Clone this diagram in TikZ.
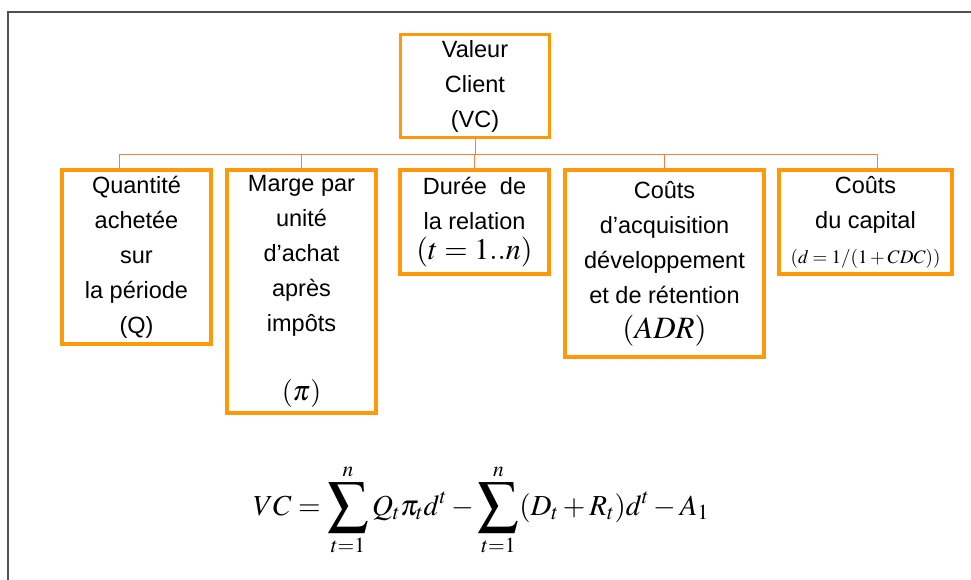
\documentclass[tikz,border=0pt]{standalone}
\usepackage{mathptmx}
\usepackage{fontspec}
\setmainfont{Liberation Sans}
\usepackage{tikz}
\usetikzlibrary{positioning}
\definecolor{boxorange}{RGB}{255,153,10}
\definecolor{linkorange}{RGB}{246,128,64}
\definecolor{framegray}{RGB}{80,80,80}
\tikzstyle{box} = [rectangle, draw=boxorange, line width=3.2pt, fill=white, text centered, align=center, inner sep=0pt, outer sep=0pt, font=\fontsize{23.5}{35}\selectfont]
\tikzstyle{link} = [draw=linkorange, line width=1pt]
\tikzstyle{frame} = [draw=framegray, line width=2pt]
\newcommand{\bigsum}{\mathop{\vcenter{\hbox{\scalebox{1.4}{$\displaystyle\sum$}}}}\limits}

\begin{document}
\begin{tikzpicture}[x=1pt, y=-1pt]
        \useasboundingbox (0,0) rectangle (971,579);
        \draw [frame] (8,580) -- (8,12) -- (972,12);

        \node (vc) [box, minimum width=149pt, minimum height=103pt] at (475,86) {Valeur\\Client\\(VC)};

        \node (qte) [box, minimum width=149pt, minimum height=174pt, anchor=north west] at (62,170) {Quantité\\achetée\\sur\\la période\\(Q)};
        \node (marge) [box, minimum width=149pt, minimum height=243pt, right=16pt of qte.north east, anchor=north west] {Marge par\\unité\\d’achat\\après\\impôts\\[34pt]{\fontsize{28}{28}\selectfont$(\pi)$}};
        \node (duree) [box, minimum width=149pt, minimum height=104pt, right=24pt of marge.north east, anchor=north west] {Durée\ \ de\\la relation\\[-5pt]{\fontsize{30}{30}\selectfont$(t=1..n)$}};
        \node (adr) [box, minimum width=199pt, minimum height=187pt, right=16pt of duree.north east, anchor=north west] {Coûts\\d’acquisition\\développement\\et de rétention\\[0pt]{\fontsize{31}{31}\selectfont$(ADR)$}};
        \node (cdc) [box, minimum width=173pt, minimum height=104pt, right=15pt of adr.north east, anchor=north west] {Coûts\\du capital\\{\fontsize{19}{19}\selectfont$(d=1/(1+CDC))$}};

        \draw [link] (vc.south) -- ++(0,17) coordinate (bus);
        \draw [link] ([xshift=-17pt]qte.north) |- (bus);
        \draw [link] (marge.north) |- (bus);
        \draw [link] (duree.north) |- (bus);
        \draw [link] (adr.north) |- (bus);
        \draw [link] ([xshift=12pt]cdc.north) |- (bus);

        \node (formula) [font=\fontsize{29}{34}\selectfont] at (481,510) {$\displaystyle VC=\bigsum_{t=1}^{n}Q_t\pi_t d^t-\bigsum_{t=1}^{n}(D_t+R_t)d^t-A_1$};
    \end{tikzpicture}
\end{document}
